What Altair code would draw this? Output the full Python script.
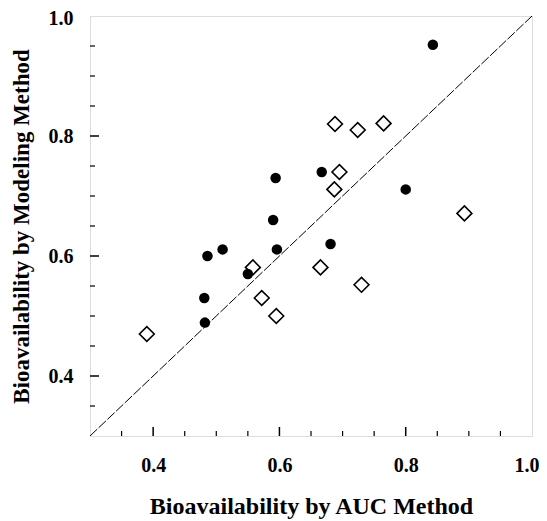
import altair as alt
import pandas as pd

# Filled circles
auc_filled = [0.843, 0.594, 0.667, 0.590, 0.486, 0.510, 0.596, 0.681, 0.550, 0.481, 0.482, 0.800]
model_filled = [0.952, 0.730, 0.740, 0.660, 0.600, 0.611, 0.611, 0.620, 0.570, 0.530, 0.489, 0.711]
# Open diamonds
auc_open = [0.695, 0.687, 0.558, 0.665, 0.730, 0.572, 0.595, 0.390, 0.688, 0.724, 0.765, 0.893]
model_open = [0.740, 0.711, 0.581, 0.581, 0.552, 0.530, 0.500, 0.470, 0.820, 0.810, 0.821, 0.671]

line_vals = [0.3, 1.0]
major_ticks = [0.4, 0.6, 0.8]
minor_ticks = [0.35, 0.45, 0.5, 0.55, 0.65, 0.7, 0.75, 0.85, 0.9, 0.95]
label_vals = [0.4, 0.6, 0.8, 1.0]

W, H = 442, 420
FONT = "Liberation Serif"

xs = alt.Scale(domain=[0.3, 1.0], nice=False, zero=False)
ys = alt.Scale(domain=[0.3, 1.0], nice=False, zero=False)

xaxis = alt.Axis(values=label_vals, format=".1f", grid=False, ticks=False, tickSize=0, domain=False,
                 labelFont=FONT, labelFontSize=20, labelFontWeight="bold", labelColor="black",
                 labelPadding=19, labelFlush=True, labelFlushOffset=7, labelOverlap=False,
                 title="Bioavailability by AUC Method", titleFont=FONT,
                 titleFontSize=24, titleFontWeight="bold", titleColor="black", titlePadding=19)
yaxis = alt.Axis(values=label_vals, format=".1f", grid=False, ticks=False, tickSize=0, domain=False,
                 labelFont=FONT, labelFontSize=20, labelFontWeight="bold", labelColor="black",
                 labelPadding=17, labelFlush=True, labelFlushOffset=8, labelOverlap=False,
                 title="Bioavailability by Modeling Method", titleFont=FONT,
                 titleFontSize=23, titleFontWeight="bold", titleColor="black", titlePadding=15)

def X():
    return alt.X("x:Q", scale=xs, axis=xaxis)

def Y():
    return alt.Y("y:Q", scale=ys, axis=yaxis)

df_f = pd.DataFrame({"x": auc_filled, "y": model_filled})
df_o = pd.DataFrame({"x": auc_open, "y": model_open})
df_line = pd.DataFrame({"x": line_vals, "y": line_vals})
df_maj = pd.DataFrame({"x": major_ticks, "y": major_ticks})
df_min = pd.DataFrame({"x": minor_ticks, "y": minor_ticks})

line = alt.Chart(df_line).mark_line(color="black", strokeWidth=1, strokeDash=[10, 2]).encode(x=X(), y=Y())

filled = alt.Chart(df_f).mark_point(shape="circle", filled=True, color="black", size=110, opacity=1).encode(x=X(), y=Y())
openp = alt.Chart(df_o).mark_point(shape="diamond", filled=False, color="black", size=220,
                                   strokeWidth=1.6, opacity=1).encode(x=X(), y=Y())

xmaj = alt.Chart(df_maj).mark_rule(color="black", strokeWidth=1.5).encode(x=X(), y=alt.value(H), y2=alt.value(H - 9))
xmin = alt.Chart(df_min).mark_rule(color="black", strokeWidth=1.2).encode(x=X(), y=alt.value(H), y2=alt.value(H - 5))
ymaj = alt.Chart(df_maj).mark_rule(color="black", strokeWidth=1.5).encode(y=Y(), x=alt.value(0), x2=alt.value(9))
ymin = alt.Chart(df_min).mark_rule(color="black", strokeWidth=1.2).encode(y=Y(), x=alt.value(0), x2=alt.value(5))

chart = alt.layer(line, xmaj, xmin, ymaj, ymin, filled, openp).properties(
    width=W, height=H,
    autosize=alt.AutoSizeParams(type="none"),
    padding={"left": 82, "top": 8, "right": 7, "bottom": 85},
).configure_view(stroke="black", strokeWidth=2, strokeOpacity=1).configure(background="white")

chart.save("out.html", embed_options={"renderer": "svg", "actions": False})
